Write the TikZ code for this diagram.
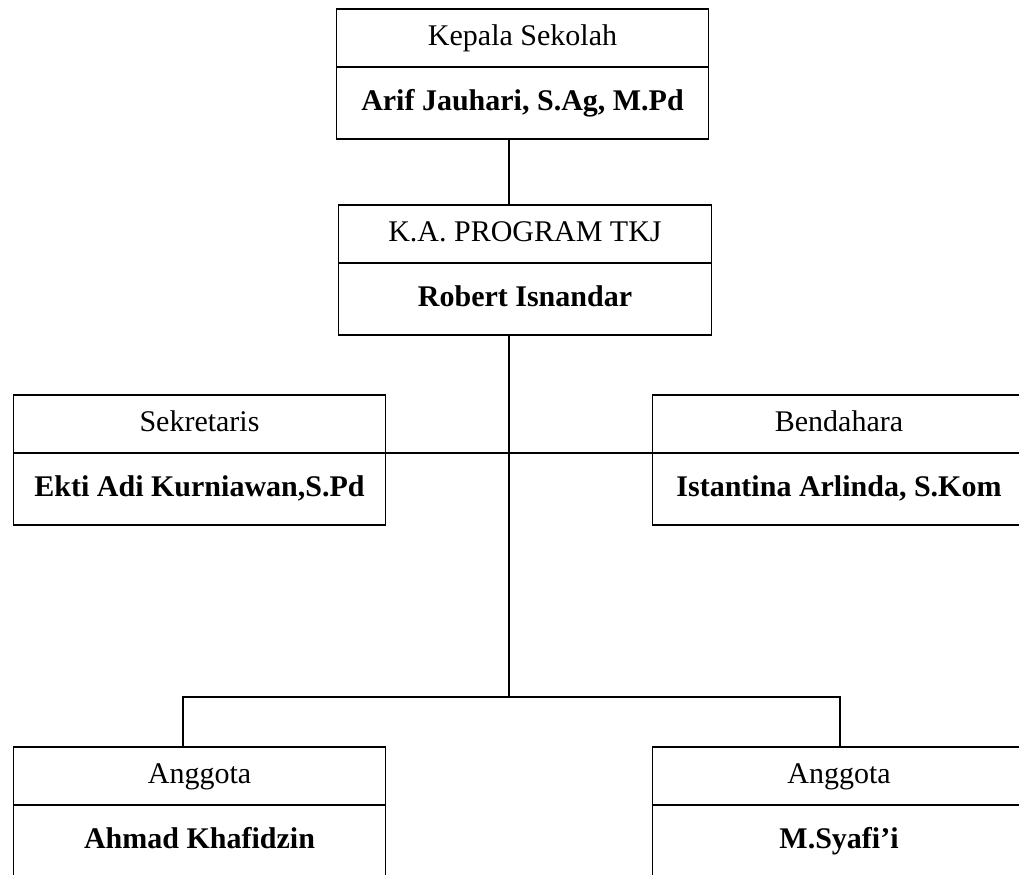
\documentclass[tikz,border=0pt]{standalone}
\usepackage{fontspec}
\setmainfont{Liberation Serif}
\usetikzlibrary{positioning}

\begin{document}
\begin{tikzpicture}[x=0.75pt, y=-0.75pt, line width=0.9pt,
    every node/.style={inner sep=0pt, outer sep=0pt, text height=16pt, text depth=5pt, font=\fontsize{22.5}{27}\selectfont},
    titlebox/.style={draw, line width=0.9pt, minimum width=279.5pt, minimum height=43.5pt},
    namebox/.style={draw, line width=0.9pt, minimum width=279.5pt, minimum height=54pt, font=\fontsize{22.5}{27}\selectfont\bfseries}]
    % Frame of the page
    \useasboundingbox (0,0) rectangle (1019,874);
    \clip (0,0) rectangle (1019,874);
    % Head of the school
    \node[titlebox] (kstitle) at (522.5,38) {Kepala Sekolah};
    \node[namebox, below=0pt of kstitle] (ksname) {Arif Jauhari, S.Ag, M.Pd};
    % Head of the programme
    \node[titlebox] (katitle) at (525,234) {K.A. PROGRAM TKJ};
    \node[namebox, below=0pt of katitle] (kaname) {Robert Isnandar};
    % Secretary and treasurer
    \node[titlebox] (sektitle) at (199.5,424) {Sekretaris};
    \node[namebox, below=0pt of sektitle] (sekname) {Ekti Adi Kurniawan,S.Pd};
    \node[titlebox] (bentitle) at (839,424) {Bendahara};
    \node[namebox, below=0pt of bentitle] (benname) {Istantina Arlinda, S.Kom};
    % Members
    \node[titlebox] (agltitle) at (199.5,776) {Anggota};
    \node[namebox, below=0pt of agltitle] (aglname) {Ahmad Khafidzin};
    \node[titlebox] (agrtitle) at (839,776) {Anggota};
    \node[namebox, below=0pt of agrtitle] (agrname) {M.Syafi’i};
    % Connecting lines
    \coordinate (spine) at (509,0);
    \coordinate (dropL) at (183,697);
    \coordinate (dropR) at (840,697);
    \draw (ksname.south -| spine) -- (katitle.north -| spine);
    \draw (kaname.south -| spine) -- (spine |- dropL);
    \draw (sekname.north east) -- (benname.north west);
    \draw (agltitle.north -| dropL) -- (dropL) -- (dropR) -- (agrtitle.north -| dropR);
\end{tikzpicture}
\end{document}
